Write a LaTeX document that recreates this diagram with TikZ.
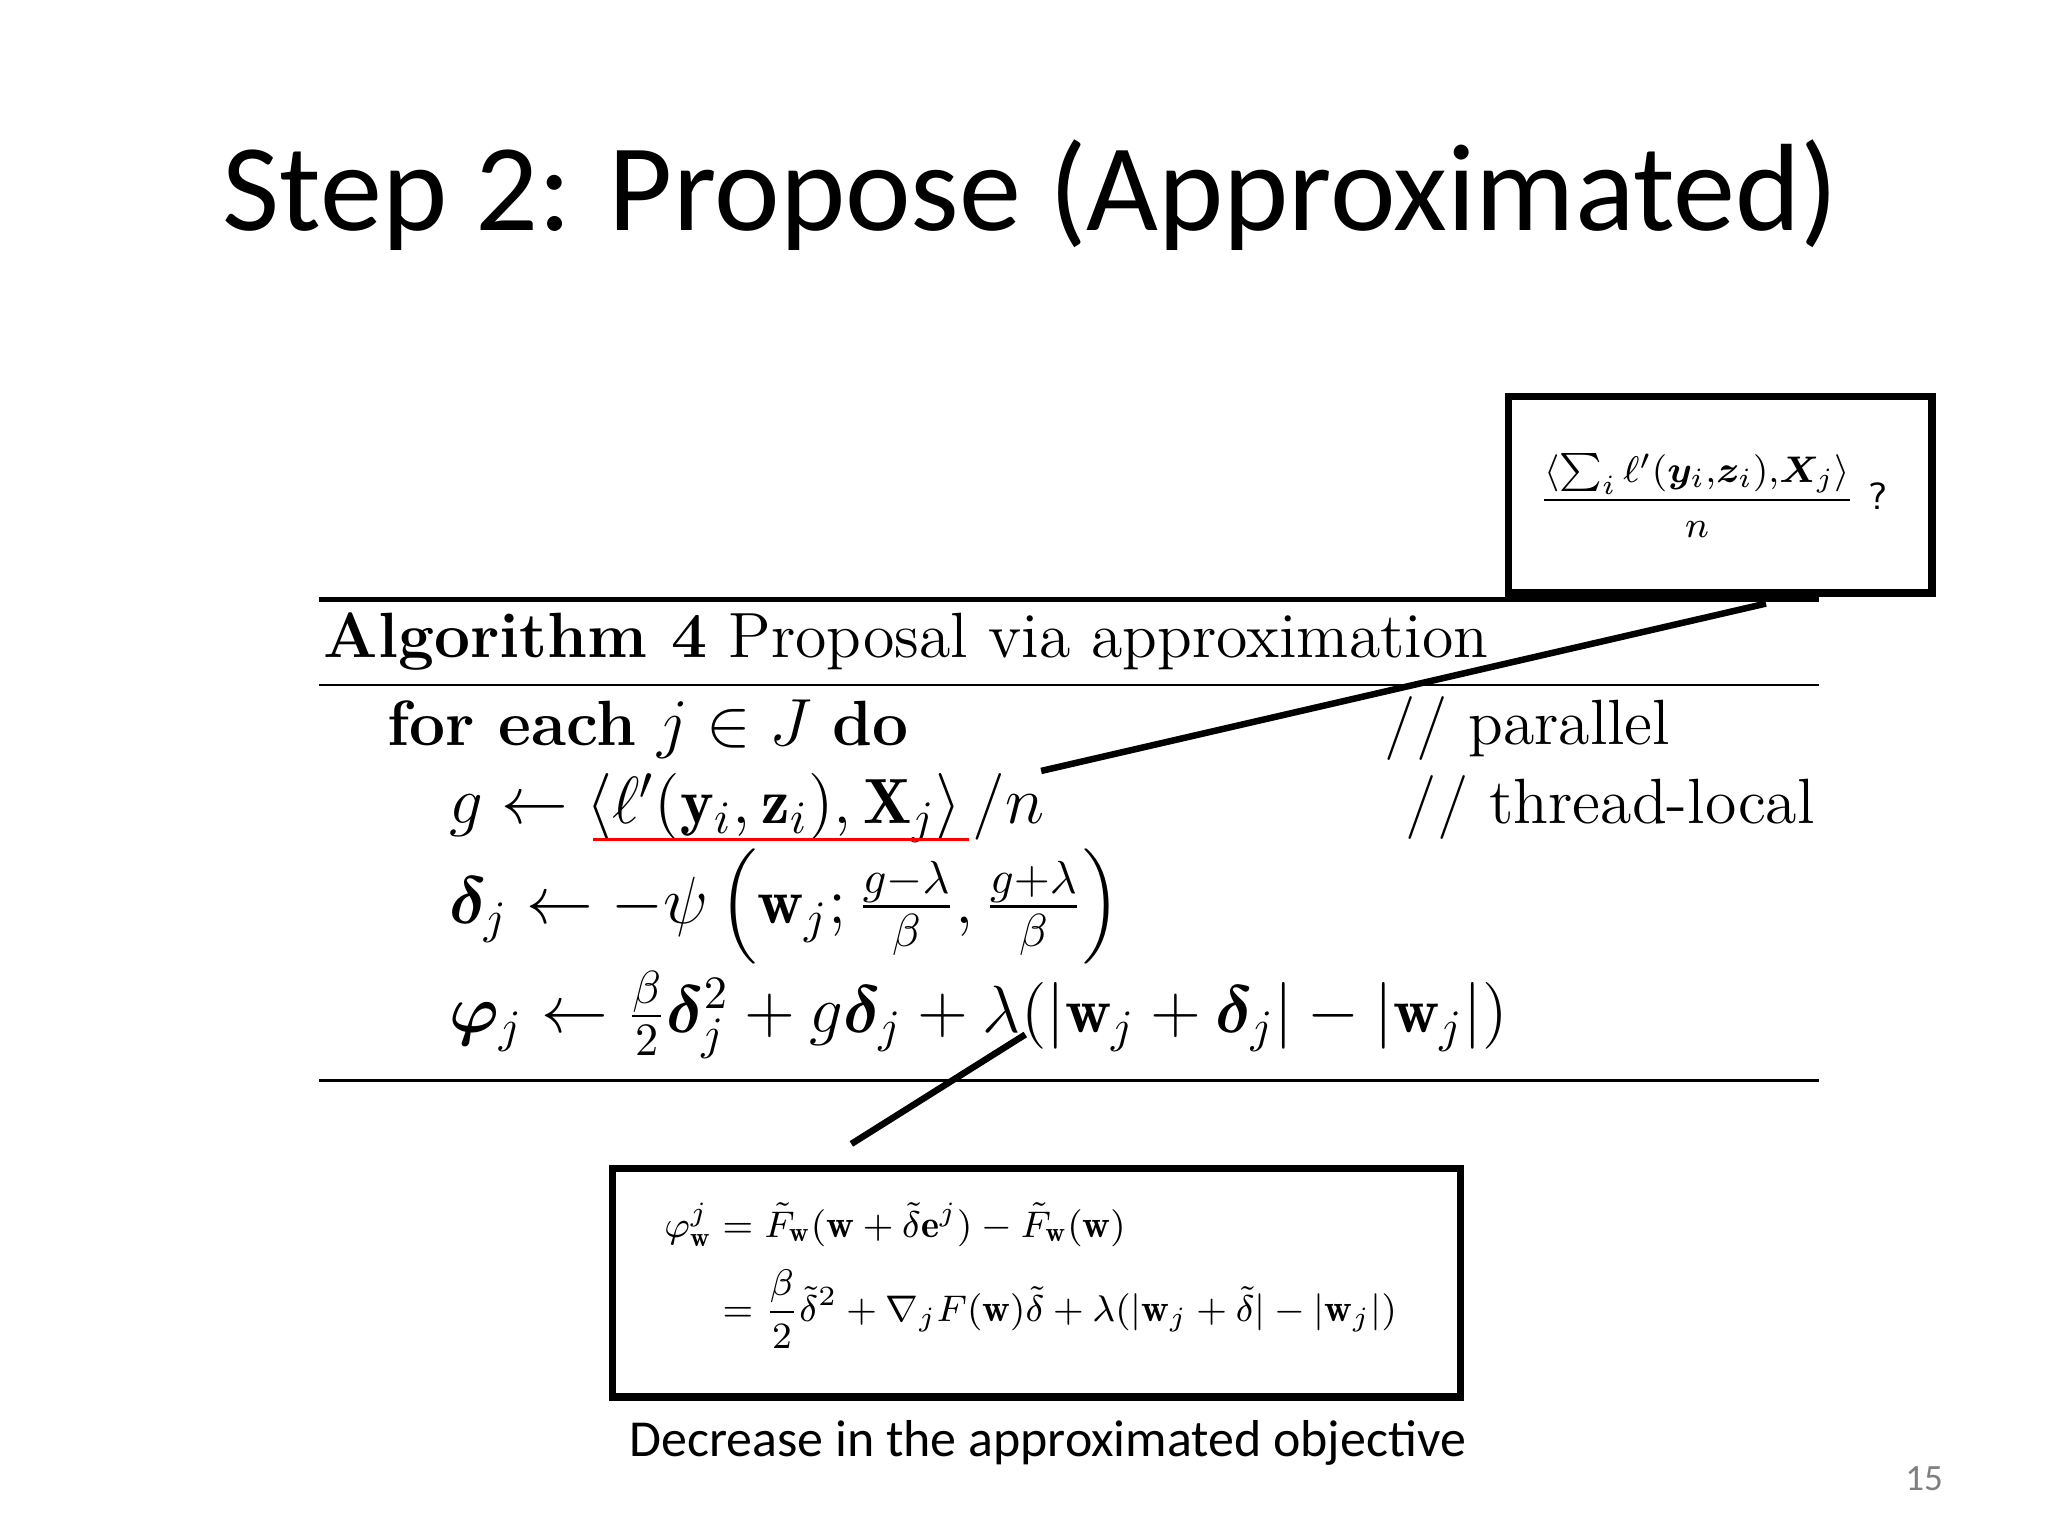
\documentclass[tikz,border=0pt]{standalone}
\usepackage{amsmath,amssymb,bm}
\usepackage{fontspec}
\newfontfamily\carl{Carlito}
\begin{document}
\begin{tikzpicture}[x=0.01cm,y=-0.01cm,
  box/.style={draw,line width=1.6pt},
  conn/.style={line width=1.4pt},
  alg/.style={anchor=west,inner sep=0pt,font=\fontsize{13.8}{16}\selectfont}]
\useasboundingbox (0,0) rectangle (1554,1165);
\node[inner sep=0pt,font=\carl\fontsize{26.8}{32}\selectfont] (title) at (782,148) {Step 2: Propose (Approximated)};
\coordinate (r1a) at (242,455); \coordinate (r1b) at (1380,455);
\coordinate (r2a) at (242,520); \coordinate (r2b) at (1380,520);
\coordinate (r3a) at (242,820); \coordinate (r3b) at (1380,820);
\draw[line width=1.2pt] (r1a)--(r1b);
\draw[line width=0.5pt] (r2a)--(r2b);
\draw[line width=0.5pt] (r3a)--(r3b);
\node[alg] (a0) at (245,487) {\textbf{Algorithm 4} Proposal via approximation};
\node[alg] (a1) at (293,553) {\textbf{for each} $j\in J$ \textbf{do}};
\node[alg] (c1) at (1050,553) {// parallel};
\node[alg] (a2) at (340,613) {$g\leftarrow \left\langle \ell'(\mathbf{y}_i,\mathbf{z}_i),\mathbf{X}_j\right\rangle/n$};
\node[alg] (c2) at (1066,613) {// thread-local};
\node[alg] (a3) at (340,688) {$\bm{\delta}_j\leftarrow -\psi\left(\mathbf{w}_j;\frac{g-\lambda}{\beta},\frac{g+\lambda}{\beta}\right)$};
\node[alg] (a4) at (340,770) {$\bm{\varphi}_j\leftarrow \frac{\beta}{2}\bm{\delta}_j^2+g\bm{\delta}_j+\lambda(|\mathbf{w}_j+\bm{\delta}_j|-|\mathbf{w}_j|)$};
\coordinate (u1) at (450,637); \coordinate (u2) at (735,637);
\draw[red,line width=0.6pt] (u1)--(u2);
\node[box,anchor=north west,inner sep=0pt,minimum width=3.21cm,minimum height=1.49cm] (tb) at (1142,298) {};
\node[inner sep=0pt,font=\fontsize{8.2}{10}\selectfont] (tf) at (1300,376) {$\dfrac{\langle \sum_i \ell'(\bm{y}_i,\!\bm{z}_i),\!\bm{X}_j\rangle}{n}$\ \textsf{?}};
\node[box,anchor=north west,inner sep=0pt,minimum width=6.43cm,minimum height=1.73cm] (bb) at (462,884) {};
\node[inner sep=0pt,font=\fontsize{8.3}{10}\selectfont] (bf) at (782,968) {$\begin{aligned}
\varphi^j_{\mathbf{w}} &= \tilde F_{\mathbf{w}}(\mathbf{w}+\tilde\delta\mathbf{e}^j)-\tilde F_{\mathbf{w}}(\mathbf{w})\\
&=\frac{\beta}{2}\tilde\delta^2+\nabla_jF(\mathbf{w})\tilde\delta+\lambda(|\mathbf{w}_j+\tilde\delta|-|\mathbf{w}_j|)
\end{aligned}$};
\coordinate (p1) at (1340,458); \coordinate (p2) at (790,585);
\draw[conn] (p1)--(p2);
\coordinate (q1) at (778,785); \coordinate (q2) at (646,868);
\draw[conn] (q1)--(q2);
\node[inner sep=0pt,font=\carl\fontsize{11.2}{14}\selectfont] (cap) at (795,1095) {Decrease in the approximated objective};
\node[inner sep=0pt,text=gray,font=\carl\fontsize{8}{10}\selectfont] (pn) at (1460,1122) {15};
\end{tikzpicture}
\end{document}
